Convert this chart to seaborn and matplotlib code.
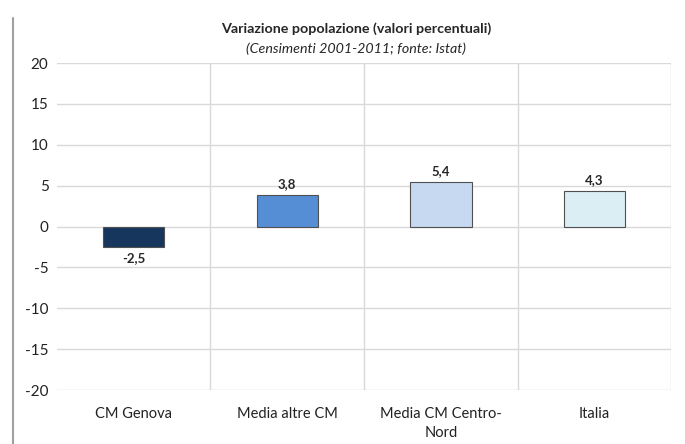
import matplotlib
matplotlib.use("Agg")
import matplotlib.pyplot as plt
from matplotlib.lines import Line2D
import seaborn as sns
import pandas as pd

# dati
categorie = ["CM Genova", "Media altre CM", "Media CM Centro-\nNord", "Italia"]
variazione = [-2.5, 3.8, 5.4, 4.3]
colori = ["#17365D", "#558ED5", "#C6D9F1", "#DBEEF4"]
y_ticks = [-20, -15, -10, -5, 0, 5, 10, 15, 20]

sns.set_style("white")
plt.rcParams["font.family"] = ["Lato", "DejaVu Sans"]

df = pd.DataFrame({"categoria": categorie, "valore": variazione})

fig = plt.figure(figsize=(6.85, 4.44), dpi=100)
ax = fig.add_axes([0.083, 0.1216, 0.897, 0.7365])

sns.barplot(data=df, x="categoria", y="valore", hue="categoria",
            palette=colori, saturation=1, width=0.4, legend=False, ax=ax,
            edgecolor="#505050", linewidth=0.8, zorder=3)

ax.set_ylim(-20, 20)
ax.set_xlim(-0.5, 3.5)
ax.set_yticks(y_ticks)
ax.set_yticklabels([str(t) for t in y_ticks], fontsize=11, color="#222222")
ax.set_xticks(range(len(categorie)))
ax.set_xticklabels(categorie, fontsize=10.5, color="#222222", linespacing=1.5)
ax.set_xticks([0.5, 1.5, 2.5, 3.5], minor=True)
ax.tick_params(axis="both", length=0, pad=6)
ax.tick_params(axis="x", which="major", pad=12)
ax.tick_params(axis="x", which="minor", length=0)
ax.grid(axis="y", color="#D9D9D9", linewidth=1, zorder=0)
ax.grid(axis="x", which="minor", color="#D9D9D9", linewidth=1, zorder=0)
ax.grid(axis="x", which="major", visible=False)
ax.set_xlabel("")
ax.set_ylabel("")
for s in ax.spines.values():
    s.set_visible(False)

# etichette valori
for i, v in enumerate(variazione):
    testo = f"{v:.1f}".replace(".", ",")
    if v >= 0:
        ax.annotate(testo, (i, v), xytext=(0, 4), textcoords="offset points",
                    ha="center", va="bottom", fontsize=9.5, fontweight="bold")
    else:
        ax.annotate(testo, (i, v), xytext=(0, -4), textcoords="offset points",
                    ha="center", va="top", fontsize=9.5, fontweight="bold")

fig.text(0.52, 0.935, "Variazione popolazione (valori percentuali)",
         ha="center", va="center", fontsize=10.3, fontweight="bold")
fig.text(0.52, 0.89, "(Censimenti 2001-2011; fonte: Istat)",
         ha="center", va="center", fontsize=10.3, style="italic")

# bordo a sinistra
fig.add_artist(Line2D([0.019, 0.019], [0.0, 0.96], color="#A0A0A0", linewidth=1.5))

fig.savefig("out.png", dpi=100)
